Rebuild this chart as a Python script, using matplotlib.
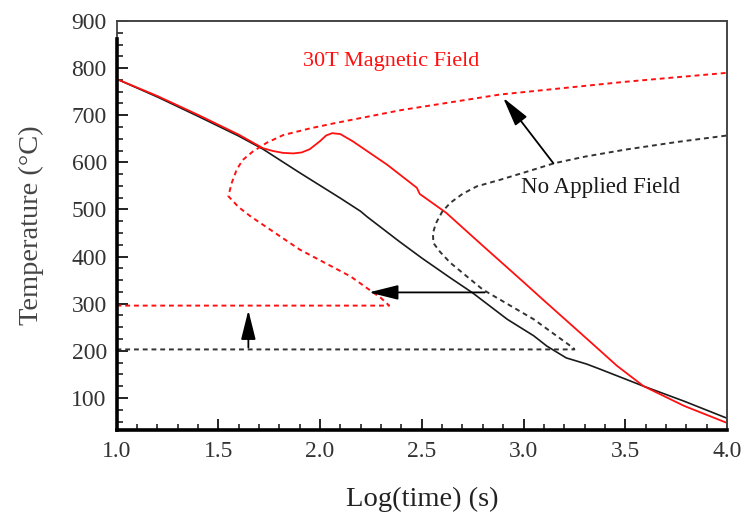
import matplotlib
matplotlib.use("Agg")
import matplotlib.pyplot as plt
from matplotlib.ticker import MultipleLocator

plt.rcParams['font.family'] = ['Liberation Serif', 'DejaVu Serif']

# ── DATA ──────────────────────────────────────────────────────
# cooling curve, no applied field
cool_0T_x = [1.0, 1.2, 1.4, 1.6, 1.72, 1.9, 2.0, 2.1, 2.2, 2.23, 2.39, 2.5,
             2.64, 2.75, 2.92, 3.05, 3.115, 3.21, 3.31, 3.377, 3.59, 3.79, 4.0]
cool_0T_y = [777, 739, 698, 656, 628, 578, 551, 524, 496, 485, 432, 397,
             355, 323, 267, 232, 210, 185, 172, 161, 125, 93, 57]

# cooling curve, 30T field
cool_30T_x = [1.0, 1.2, 1.4, 1.6, 1.72, 1.77, 1.82, 1.87, 1.91, 1.95, 2.0,
              2.03, 2.06, 2.1, 2.16, 2.33, 2.476, 2.49, 2.62, 2.8, 3.0,
              3.1, 3.3, 3.46, 3.59, 3.79, 4.0]
cool_30T_y = [777, 741, 701, 659, 630, 624, 620, 619, 621, 628, 645,
              657, 662, 660, 645, 595, 546, 533, 493, 423, 346,
              307, 230, 168, 125, 83, 47]

# CCT boundary, 30T field (horizontal Ms line then C-curve)
cct_30T_x = [1.0, 2.34, 2.30, 2.15, 1.90, 1.66, 1.60, 1.55, 1.565, 1.59,
             1.62, 1.67, 1.74, 1.82, 1.95, 2.07, 2.40, 2.885, 3.5, 4.0]
cct_30T_y = [296, 296, 312, 358, 415, 485, 505, 528, 555, 584,
             605, 623, 642, 658, 672, 683, 711, 744, 771, 790]

# CCT boundary, no applied field
cct_0T_x = [1.0, 3.25, 3.245, 3.05, 2.80, 2.64, 2.59, 2.557, 2.555, 2.57,
            2.60, 2.64, 2.70, 2.77, 2.885, 3.0, 3.15, 3.3, 3.5, 3.75, 4.0]
cct_0T_y = [203, 203, 206, 267, 330, 387, 410, 429, 450, 471,
            495, 514, 533, 549, 563, 578, 598, 612, 627, 643, 657]

# arrows: (tail, tip)
arrow_tails = [(1.648, 207), (2.81, 324), (3.147, 598)]
arrow_tips = [(1.648, 286), (2.24, 324), (2.90, 737)]

label_30T = "30T Magnetic Field"
label_0T = "No Applied Field"

# ── FIGURE ────────────────────────────────────────────────────
fig = plt.figure(figsize=(7.43, 5.14), dpi=100)
ax = fig.add_axes([116.5 / 743, 84 / 514, 610.5 / 743, 409 / 514])

RED = "#ff1010"
BLK = "#1a1a1a"

ax.plot(cool_0T_x, cool_0T_y, color=BLK, lw=1.2)
ax.plot(cool_30T_x, cool_30T_y, color=RED, lw=1.3)
ax.plot(cct_30T_x, cct_30T_y, color=RED, lw=1.4, ls=(0, (2.5, 2)))
ax.plot(cct_0T_x, cct_0T_y, color="#333333", lw=1.4, ls=(0, (2.5, 2)))

for tail, tip in zip(arrow_tails, arrow_tips):
    ax.annotate("", xy=tip, xytext=tail,
                arrowprops=dict(arrowstyle="-|>,head_length=1.8,head_width=0.45",
                                color="black", lw=1.3, shrinkA=0, shrinkB=0,
                                mutation_scale=10))

ax.text(2.35, 813, label_30T, color=RED, fontsize=16, ha="center", va="center")
ax.text(2.99, 546, label_0T, color=BLK, fontsize=16.5, ha="left", va="center")

ax.set_xlim(1.0, 4.0)
ax.set_ylim(32, 900)

ax.xaxis.set_major_locator(MultipleLocator(0.5))
ax.xaxis.set_minor_locator(MultipleLocator(0.1))
ax.yaxis.set_major_locator(MultipleLocator(100))
ax.yaxis.set_minor_locator(MultipleLocator(25))
ax.set_yticks(range(100, 1000, 100))
ax.xaxis.set_major_formatter(plt.FormatStrFormatter("%.1f"))

ax.tick_params(which="both", direction="in", top=False, right=False,
               colors="#222222", labelcolor="#333333", labelsize=17)
ax.tick_params(which="major", length=8, width=1.4)
ax.tick_params(which="minor", length=4, width=1.2)
ax.tick_params(axis="y", pad=7)
ax.tick_params(axis="x", pad=8)

# spines: heavy left/bottom, thin grey top/right
ax.spines["left"].set_linewidth(2.6)
ax.spines["left"].set_color("black")
ax.spines["left"].set_bounds(32, 862)
ax.axvline(1.0, ymin=(862 - 32) / (900 - 32), ymax=1, color="#333333", lw=1.2,
           clip_on=False)
ax.spines["bottom"].set_linewidth(2.6)
ax.spines["bottom"].set_color("black")
for s in ("top", "right"):
    ax.spines[s].set_linewidth(1.4)
    ax.spines[s].set_color("#444444")

ax.set_xlabel("Log(time) (s)", fontsize=20.5, color="#222222", labelpad=18)
ax.set_ylabel("Temperature (\u00b0C)", fontsize=20.5, color="#444444", labelpad=20)

fig.savefig("out.png", dpi=100, facecolor="white")
